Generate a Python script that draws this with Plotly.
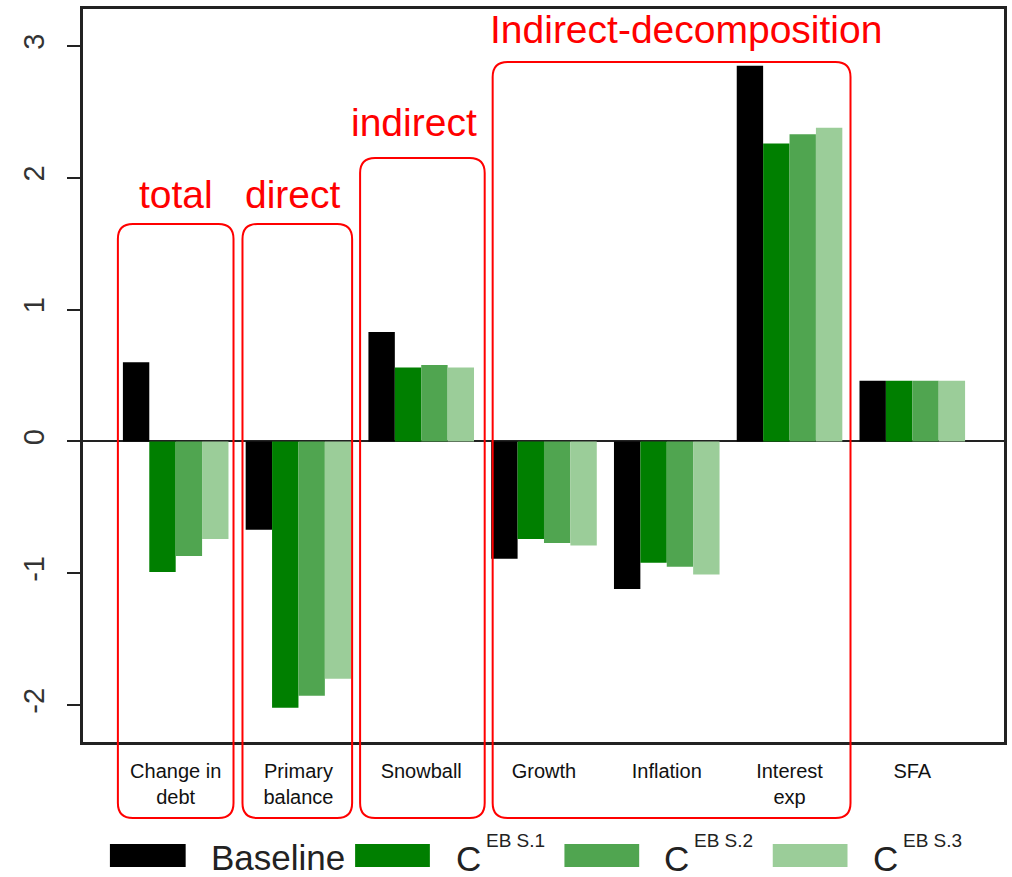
import plotly.graph_objects as go

categories = ["Change in debt", "Primary balance", "Snowball", "Growth", "Inflation", "Interest exp", "SFA"]
tick_labels = ["Change in<br>debt", "Primary<br>balance", "Snowball", "Growth", "Inflation", "Interest<br>exp", "SFA"]
baseline = [0.60, -0.67, 0.83, -0.89, -1.12, 2.85, 0.46]
c_s1 = [-0.99, -2.02, 0.56, -0.74, -0.92, 2.26, 0.46]
c_s2 = [-0.87, -1.93, 0.58, -0.77, -0.95, 2.33, 0.46]
c_s3 = [-0.74, -1.80, 0.56, -0.79, -1.01, 2.38, 0.46]
series_names = ["Baseline", "C<sup>EB S.1</sup>", "C<sup>EB S.2</sup>", "C<sup>EB S.3</sup>"]
colors = ["#000000", "#007f00", "#50a550", "#9bcd99"]
y_ticks = [-2, -1, 0, 1, 2, 3]

W, H = 1012, 877
L, R, T, B = 83, 1007, 9, 742

def xp(px):
    return (px - L) / (R - L)

def yp(py):
    return (B - py) / (B - T)

fig = go.Figure()
for name, vals, col in zip(series_names, [baseline, c_s1, c_s2, c_s3], colors):
    fig.add_trace(go.Bar(x=categories, y=vals, name=name, marker=dict(color=col, line=dict(width=0)),
                         showlegend=False))

red = "#ff0000"
font_main = "Liberation Sans, Arial, sans-serif"

# rounded boxes (pixel coords)
boxes = [(118, 224, 234, 818), (243, 224, 353, 818), (361, 158, 486, 818), (494, 62, 853, 818)]
rad = 15
shapes = []
for (x0, y0, x1, y1) in boxes:
    rx = rad / (R - L)
    ry = rad / (B - T)
    X0, X1 = xp(x0), xp(x1)
    Y0, Y1 = yp(y1), yp(y0)  # Y0 bottom, Y1 top
    path = (f"M {X0+rx},{Y1} L {X1-rx},{Y1} Q {X1},{Y1} {X1},{Y1-ry} "
            f"L {X1},{Y0+ry} Q {X1},{Y0} {X1-rx},{Y0} "
            f"L {X0+rx},{Y0} Q {X0},{Y0} {X0},{Y0+ry} "
            f"L {X0},{Y1-ry} Q {X0},{Y1} {X0+rx},{Y1} Z")
    shapes.append(dict(type="path", path=path, xref="paper", yref="paper",
                       line=dict(color=red, width=2), fillcolor="rgba(0,0,0,0)", layer="above"))

annotations = []
labels = [("total", 176, 194), ("direct", 294, 194), ("indirect", 415, 122), ("Indirect-decomposition", 688, 30)]
for txt, cx, cy in labels:
    annotations.append(dict(text=txt, x=xp(cx), y=yp(cy), xref="paper", yref="paper",
                            showarrow=False, xanchor="center", yanchor="middle",
                            font=dict(family=font_main, size=39, color=red)))

# manual legend
leg_rects = [(110, 186), (356, 431), (566, 641), (775, 850)]
for (x0, x1), col in zip(leg_rects, colors):
    shapes.append(dict(type="rect", xref="paper", yref="paper", x0=xp(x0), x1=xp(x1),
                       y0=yp(867), y1=yp(844), fillcolor=col, line=dict(width=0)))
annotations.append(dict(text="Baseline", x=xp(209), y=yp(857), xref="paper", yref="paper",
                        showarrow=False, xanchor="left", yanchor="middle",
                        font=dict(family=font_main, size=35, color="#222222")))
for cx, sup in [(455, "EB S.1"), (664, "EB S.2"), (874, "EB S.3")]:
    annotations.append(dict(text="C", x=xp(cx), y=yp(858), xref="paper", yref="paper",
                            showarrow=False, xanchor="left", yanchor="middle",
                            font=dict(family=font_main, size=35, color="#222222")))
    annotations.append(dict(text=sup, x=xp(cx + 30), y=yp(840), xref="paper", yref="paper",
                            showarrow=False, xanchor="left", yanchor="middle",
                            font=dict(family=font_main, size=19, color="#222222")))

fig.update_layout(
    width=W, height=H,
    margin=dict(l=L, r=W - R, t=T, b=H - B, pad=0),
    plot_bgcolor="white", paper_bgcolor="white",
    barmode="group", bargap=0.14, bargroupgap=0,
    showlegend=False,
    shapes=shapes, annotations=annotations,
    xaxis=dict(type="category", categoryorder="array", categoryarray=categories,
               tickvals=categories, ticktext=tick_labels, range=[-0.755, 6.747],
               showline=True, linecolor="#222222", linewidth=2.5, mirror=True,
               ticks="outside", ticklen=9, tickcolor="rgba(0,0,0,0)",
               showgrid=False, zeroline=False,
               tickfont=dict(family=font_main, size=20, color="#111111")),
    yaxis=dict(range=[-2.28, 3.28], tickvals=y_ticks, ticktext=[str(v) for v in y_ticks],
               tickangle=-90, ticks="outside", ticklen=13, tickwidth=1.5, tickcolor="#222222",
               showline=True, linecolor="#222222", linewidth=2.5, mirror=True,
               showgrid=False, zeroline=True, zerolinecolor="#222222", zerolinewidth=1.5,
               ticklabelstandoff=12,
               tickfont=dict(family=font_main, size=29, color="#333333")),
)

fig.write_html("out.html", config={"displayModeBar": False},
               post_script="document.body.style.margin='0';document.body.style.overflow='hidden';")
